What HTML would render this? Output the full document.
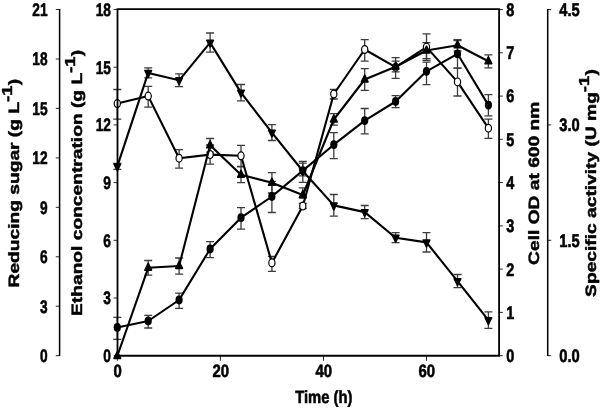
<!DOCTYPE html>
<html lang="en"><head><meta charset="utf-8"><title>Figure</title>
<style>html,body{margin:0;padding:0;background:#fff}svg{display:block}</style>
</head><body>
<svg width="600" height="408" viewBox="0 0 600 408">
<rect width="600" height="408" fill="#fff"/>
<g id="err-activity" stroke="#3c3c3c" stroke-width="1.3" fill="none">
<path d="M117.3 89.5V119.2M113.3 89.5h8M113.3 119.2h8"/>
<path d="M148.2 86.4V107.1M144.2 86.4h8M144.2 107.1h8"/>
<path d="M179.1 149.7V168.2M175.1 149.7h8M175.1 168.2h8"/>
<path d="M210.1 145.0V164.2M206.1 145.0h8M206.1 164.2h8"/>
<path d="M241.0 145.4V166.4M237.0 145.4h8M237.0 166.4h8"/>
<path d="M271.9 256.3V271.4M267.9 256.3h8M267.9 271.4h8"/>
<path d="M302.8 203.5V208.5M298.8 203.5h8M298.8 208.5h8"/>
<path d="M333.8 89.3V99.0M329.8 89.3h8M329.8 99.0h8"/>
<path d="M364.7 39.7V61.2M360.7 39.7h8M360.7 61.2h8"/>
<path d="M395.6 57.7V78.3M391.6 57.7h8M391.6 78.3h8"/>
<path d="M426.5 33.8V60.4M422.5 33.8h8M422.5 60.4h8"/>
<path d="M457.5 68.2V96.0M453.5 68.2h8M453.5 96.0h8"/>
<path d="M488.4 119.2V138.3M484.4 119.2h8M484.4 138.3h8"/>
</g>
<g id="err-sugar" stroke="#3c3c3c" stroke-width="1.3" fill="none">
<path d="M117.3 163.3V169.4M113.3 163.3h8M113.3 169.4h8"/>
<path d="M148.2 67.8V77.9M144.2 67.8h8M144.2 77.9h8"/>
<path d="M179.1 73.9V86.7M175.1 73.9h8M175.1 86.7h8"/>
<path d="M210.1 33.0V52.2M206.1 33.0h8M206.1 52.2h8"/>
<path d="M241.0 84.5V100.8M237.0 84.5h8M237.0 100.8h8"/>
<path d="M271.9 124.7V140.5M267.9 124.7h8M267.9 140.5h8"/>
<path d="M302.8 161.3V182.4M298.8 161.3h8M298.8 182.4h8"/>
<path d="M333.8 194.5V216.2M329.8 194.5h8M329.8 216.2h8"/>
<path d="M364.7 205.5V218.6M360.7 205.5h8M360.7 218.6h8"/>
<path d="M395.6 232.7V242.7M391.6 232.7h8M391.6 242.7h8"/>
<path d="M426.5 232.7V252.0M422.5 232.7h8M422.5 252.0h8"/>
<path d="M457.5 274.5V287.7M453.5 274.5h8M453.5 287.7h8"/>
<path d="M488.4 311.9V328.3M484.4 311.9h8M484.4 328.3h8"/>
</g>
<g id="err-ethanol" stroke="#3c3c3c" stroke-width="1.3" fill="none">
<path d="M148.2 260.5V275.1M144.2 260.5h8M144.2 275.1h8"/>
<path d="M179.1 258.0V274.1M175.1 258.0h8M175.1 274.1h8"/>
<path d="M210.1 138.5V152.1M206.1 138.5h8M206.1 152.1h8"/>
<path d="M241.0 166.8V182.7M237.0 166.8h8M237.0 182.7h8"/>
<path d="M271.9 172.6V193.0M267.9 172.6h8M267.9 193.0h8"/>
<path d="M302.8 187.9V198.0M298.8 187.9h8M298.8 198.0h8"/>
<path d="M333.8 113.7V125.2M329.8 113.7h8M329.8 125.2h8"/>
<path d="M364.7 68.6V90.4M360.7 68.6h8M360.7 90.4h8"/>
<path d="M395.6 61.2V71.9M391.6 61.2h8M391.6 71.9h8"/>
<path d="M426.5 42.6V58.7M422.5 42.6h8M422.5 58.7h8"/>
<path d="M457.5 39.7V50.9M453.5 39.7h8M453.5 50.9h8"/>
<path d="M488.4 54.8V67.8M484.4 54.8h8M484.4 67.8h8"/>
</g>
<g id="err-od" stroke="#3c3c3c" stroke-width="1.3" fill="none">
<path d="M117.3 317.3V339.3M113.3 317.3h8M113.3 339.3h8"/>
<path d="M148.2 315.3V328.0M144.2 315.3h8M144.2 328.0h8"/>
<path d="M179.1 293.2V308.3M175.1 293.2h8M175.1 308.3h8"/>
<path d="M210.1 241.7V257.7M206.1 241.7h8M206.1 257.7h8"/>
<path d="M241.0 207.6V229.1M237.0 207.6h8M237.0 229.1h8"/>
<path d="M271.9 181.5V212.5M267.9 181.5h8M267.9 212.5h8"/>
<path d="M302.8 163.1V175.9M298.8 163.1h8M298.8 175.9h8"/>
<path d="M333.8 132.6V158.7M329.8 132.6h8M329.8 158.7h8"/>
<path d="M364.7 108.5V133.8M360.7 108.5h8M360.7 133.8h8"/>
<path d="M395.6 95.6V107.7M391.6 95.6h8M391.6 107.7h8"/>
<path d="M426.5 62.2V84.7M422.5 62.2h8M422.5 84.7h8"/>
<path d="M457.5 40.5V68.2M453.5 40.5h8M453.5 68.2h8"/>
<path d="M488.4 94.7V115.8M484.4 94.7h8M484.4 115.8h8"/>
</g>
<polyline id="line-activity" points="117.3,103.6 148.2,96.1 179.1,158.2 210.1,154.6 241.0,155.8 271.9,262.9 302.8,206.1 333.8,94.0 364.7,49.5 395.6,67.2 426.5,47.1 457.5,81.9 488.4,128.2" fill="none" stroke="#000" stroke-width="2.1" stroke-linejoin="round"/>
<g id="markers-activity" fill="#fff" stroke="#000" stroke-width="1.2">
<ellipse cx="117.3" cy="103.6" rx="3.1" ry="3.9"/>
<ellipse cx="148.2" cy="96.1" rx="3.1" ry="3.9"/>
<ellipse cx="179.1" cy="158.2" rx="3.1" ry="3.9"/>
<ellipse cx="210.1" cy="154.6" rx="3.1" ry="3.9"/>
<ellipse cx="241.0" cy="155.8" rx="3.1" ry="3.9"/>
<ellipse cx="271.9" cy="262.9" rx="3.1" ry="3.9"/>
<ellipse cx="302.8" cy="206.1" rx="3.1" ry="3.9"/>
<ellipse cx="333.8" cy="94.0" rx="3.1" ry="3.9"/>
<ellipse cx="364.7" cy="49.5" rx="3.1" ry="3.9"/>
<ellipse cx="395.6" cy="67.2" rx="3.1" ry="3.9"/>
<ellipse cx="426.5" cy="47.1" rx="3.1" ry="3.9"/>
<ellipse cx="457.5" cy="81.9" rx="3.1" ry="3.9"/>
<ellipse cx="488.4" cy="128.2" rx="3.1" ry="3.9"/>
</g>
<polyline id="line-sugar" points="117.3,166.4 148.2,72.9 179.1,80.3 210.1,42.6 241.0,92.6 271.9,132.6 302.8,171.0 333.8,205.4 364.7,212.1 395.6,237.7 426.5,242.4 457.5,281.1 488.4,320.1" fill="none" stroke="#000" stroke-width="2.1" stroke-linejoin="round"/>
<g id="markers-sugar" fill="#000" stroke="#000" stroke-width="1.6" stroke-linejoin="round">
<path d="M114.0 164.0h6.6L117.3 170.8z"/>
<path d="M144.9 70.5h6.6L148.2 77.3z"/>
<path d="M175.8 77.9h6.6L179.1 84.7z"/>
<path d="M206.8 40.2h6.6L210.1 47.0z"/>
<path d="M237.7 90.2h6.6L241.0 97.0z"/>
<path d="M268.6 130.2h6.6L271.9 137.0z"/>
<path d="M299.5 168.6h6.6L302.8 175.4z"/>
<path d="M330.5 203.0h6.6L333.8 209.8z"/>
<path d="M361.4 209.7h6.6L364.7 216.5z"/>
<path d="M392.3 235.3h6.6L395.6 242.1z"/>
<path d="M423.2 240.0h6.6L426.5 246.8z"/>
<path d="M454.2 278.7h6.6L457.5 285.5z"/>
<path d="M485.1 317.7h6.6L488.4 324.5z"/>
</g>
<polyline id="line-ethanol" points="117.3,356.0 148.2,267.8 179.1,266.0 210.1,145.3 241.0,174.7 271.9,182.8 302.8,195.0 333.8,119.5 364.7,79.5 395.6,66.7 426.5,50.5 457.5,45.3 488.4,61.3" fill="none" stroke="#000" stroke-width="2.1" stroke-linejoin="round"/>
<g id="markers-ethanol" fill="#000" stroke="#000" stroke-width="1.6" stroke-linejoin="round">
<path d="M114.0 358.4h6.6L117.3 351.6z"/>
<path d="M144.9 270.2h6.6L148.2 263.4z"/>
<path d="M175.8 268.4h6.6L179.1 261.6z"/>
<path d="M206.8 147.7h6.6L210.1 140.9z"/>
<path d="M237.7 177.1h6.6L241.0 170.3z"/>
<path d="M268.6 185.2h6.6L271.9 178.4z"/>
<path d="M299.5 197.4h6.6L302.8 190.6z"/>
<path d="M330.5 121.9h6.6L333.8 115.1z"/>
<path d="M361.4 81.9h6.6L364.7 75.1z"/>
<path d="M392.3 69.1h6.6L395.6 62.3z"/>
<path d="M423.2 52.9h6.6L426.5 46.1z"/>
<path d="M454.2 47.7h6.6L457.5 40.9z"/>
<path d="M485.1 63.7h6.6L488.4 56.9z"/>
</g>
<polyline id="line-od" points="117.3,327.5 148.2,321.0 179.1,300.0 210.1,249.0 241.0,217.7 271.9,196.5 302.8,170.6 333.8,144.7 364.7,120.6 395.6,101.5 426.5,71.3 457.5,53.8 488.4,105.1" fill="none" stroke="#000" stroke-width="2.1" stroke-linejoin="round"/>
<g id="markers-od" fill="#000">
<ellipse cx="117.3" cy="327.5" rx="3.6" ry="4.4"/>
<ellipse cx="148.2" cy="321.0" rx="3.6" ry="4.4"/>
<ellipse cx="179.1" cy="300.0" rx="3.6" ry="4.4"/>
<ellipse cx="210.1" cy="249.0" rx="3.6" ry="4.4"/>
<ellipse cx="241.0" cy="217.7" rx="3.6" ry="4.4"/>
<ellipse cx="271.9" cy="196.5" rx="3.6" ry="4.4"/>
<ellipse cx="302.8" cy="170.6" rx="3.6" ry="4.4"/>
<ellipse cx="333.8" cy="144.7" rx="3.6" ry="4.4"/>
<ellipse cx="364.7" cy="120.6" rx="3.6" ry="4.4"/>
<ellipse cx="395.6" cy="101.5" rx="3.6" ry="4.4"/>
<ellipse cx="426.5" cy="71.3" rx="3.6" ry="4.4"/>
<ellipse cx="457.5" cy="53.8" rx="3.6" ry="4.4"/>
<ellipse cx="488.4" cy="105.1" rx="3.6" ry="4.4"/>
</g>
<g id="axes" stroke="#000" fill="none">
<path d="M117.5 355.7V9.2H499.1V355.7" stroke-width="1.8"/>
<path d="M116.6 355.7H500" stroke-width="2"/>
<path d="M59.6 356.09999999999997V9.1" stroke-width="1.5"/>
<path d="M547.7 356.09999999999997V9.1" stroke-width="1.5"/>
<path d="M59.6 355.7h-3.8" stroke-width="0.85" stroke="#000"/>
<path d="M59.6 306.2h-3.8" stroke-width="0.85" stroke="#000"/>
<path d="M59.6 256.8h-3.8" stroke-width="0.85" stroke="#000"/>
<path d="M59.6 207.3h-3.8" stroke-width="0.85" stroke="#000"/>
<path d="M59.6 157.9h-3.8" stroke-width="0.85" stroke="#000"/>
<path d="M59.6 108.4h-3.8" stroke-width="0.85" stroke="#000"/>
<path d="M59.6 59.0h-3.8" stroke-width="0.85" stroke="#000"/>
<path d="M59.6 9.5h-3.8" stroke-width="0.85" stroke="#000"/>
<path d="M117.5 355.7h-3.8" stroke-width="0.85" stroke="#000"/>
<path d="M117.5 298.0h-3.8" stroke-width="0.85" stroke="#000"/>
<path d="M117.5 240.3h-3.8" stroke-width="0.85" stroke="#000"/>
<path d="M117.5 182.6h-3.8" stroke-width="0.85" stroke="#000"/>
<path d="M117.5 124.9h-3.8" stroke-width="0.85" stroke="#000"/>
<path d="M117.5 67.2h-3.8" stroke-width="0.85" stroke="#000"/>
<path d="M117.5 9.5h-3.8" stroke-width="0.85" stroke="#000"/>
<path d="M499.1 355.7h3.7" stroke-width="0.85" stroke="#000"/>
<path d="M499.1 312.4h3.7" stroke-width="0.85" stroke="#000"/>
<path d="M499.1 269.1h3.7" stroke-width="0.85" stroke="#000"/>
<path d="M499.1 225.9h3.7" stroke-width="0.85" stroke="#000"/>
<path d="M499.1 182.6h3.7" stroke-width="0.85" stroke="#000"/>
<path d="M499.1 139.3h3.7" stroke-width="0.85" stroke="#000"/>
<path d="M499.1 96.1h3.7" stroke-width="0.85" stroke="#000"/>
<path d="M499.1 52.8h3.7" stroke-width="0.85" stroke="#000"/>
<path d="M499.1 9.5h3.7" stroke-width="0.85" stroke="#000"/>
<path d="M547.7 355.7h3.5" stroke-width="0.85" stroke="#000"/>
<path d="M547.7 240.3h3.5" stroke-width="0.85" stroke="#000"/>
<path d="M547.7 124.9h3.5" stroke-width="0.85" stroke="#000"/>
<path d="M547.7 9.5h3.5" stroke-width="0.85" stroke="#000"/>
<path d="M117.3 355.7v5.1" stroke-width="0.85" stroke="#000"/>
<path d="M220.4 355.7v5.1" stroke-width="0.85" stroke="#000"/>
<path d="M323.5 355.7v5.1" stroke-width="0.85" stroke="#000"/>
<path d="M426.5 355.7v5.1" stroke-width="0.85" stroke="#000"/>
</g>
<g id="labels" text-rendering="geometricPrecision" opacity="0.999" font-family="'Liberation Sans', Arial, Helvetica, sans-serif" font-weight="bold" fill="#000" stroke="#000" stroke-width="0.6" stroke-linejoin="round">
<text transform="translate(47.6 362.0) scale(0.75 1)" text-anchor="end" font-size="18.3">0</text>
<text transform="translate(47.6 313.0) scale(0.75 1)" text-anchor="end" font-size="18.3">3</text>
<text transform="translate(47.6 263.0) scale(0.75 1)" text-anchor="end" font-size="18.3">6</text>
<text transform="translate(47.6 214.0) scale(0.75 1)" text-anchor="end" font-size="18.3">9</text>
<text transform="translate(47.6 164.0) scale(0.75 1)" text-anchor="end" font-size="18.3">12</text>
<text transform="translate(47.6 115.0) scale(0.75 1)" text-anchor="end" font-size="18.3">15</text>
<text transform="translate(47.6 65.0) scale(0.75 1)" text-anchor="end" font-size="18.3">18</text>
<text transform="translate(47.6 16.0) scale(0.75 1)" text-anchor="end" font-size="18.3">21</text>
<text transform="translate(111.0 362.0) scale(0.75 1)" text-anchor="end" font-size="18.3">0</text>
<text transform="translate(111.0 304.0) scale(0.75 1)" text-anchor="end" font-size="18.3">3</text>
<text transform="translate(111.0 247.0) scale(0.75 1)" text-anchor="end" font-size="18.3">6</text>
<text transform="translate(111.0 189.0) scale(0.75 1)" text-anchor="end" font-size="18.3">9</text>
<text transform="translate(111.0 131.0) scale(0.75 1)" text-anchor="end" font-size="18.3">12</text>
<text transform="translate(111.0 74.0) scale(0.75 1)" text-anchor="end" font-size="18.3">15</text>
<text transform="translate(111.0 16.0) scale(0.75 1)" text-anchor="end" font-size="18.3">18</text>
<text transform="translate(506.3 362.0) scale(0.79 1)" text-anchor="start" font-size="18.3">0</text>
<text transform="translate(506.3 319.0) scale(0.79 1)" text-anchor="start" font-size="18.3">1</text>
<text transform="translate(506.3 276.0) scale(0.79 1)" text-anchor="start" font-size="18.3">2</text>
<text transform="translate(506.3 232.0) scale(0.79 1)" text-anchor="start" font-size="18.3">3</text>
<text transform="translate(506.3 189.0) scale(0.79 1)" text-anchor="start" font-size="18.3">4</text>
<text transform="translate(506.3 146.0) scale(0.79 1)" text-anchor="start" font-size="18.3">5</text>
<text transform="translate(506.3 102.0) scale(0.79 1)" text-anchor="start" font-size="18.3">6</text>
<text transform="translate(506.3 59.0) scale(0.79 1)" text-anchor="start" font-size="18.3">7</text>
<text transform="translate(506.3 16.0) scale(0.79 1)" text-anchor="start" font-size="18.3">8</text>
<text transform="translate(559.3 362.0) scale(0.805 1)" text-anchor="start" font-size="18.3">0.0</text>
<text transform="translate(559.3 247.0) scale(0.805 1)" text-anchor="start" font-size="18.3">1.5</text>
<text transform="translate(559.3 131.0) scale(0.805 1)" text-anchor="start" font-size="18.3">3.0</text>
<text transform="translate(559.3 16.0) scale(0.805 1)" text-anchor="start" font-size="18.3">4.5</text>
<text transform="translate(117.6 377.0) scale(0.835 1)" text-anchor="middle" font-size="17.9">0</text>
<text transform="translate(220.7 377.0) scale(0.835 1)" text-anchor="middle" font-size="17.9">20</text>
<text transform="translate(323.8 377.0) scale(0.835 1)" text-anchor="middle" font-size="17.9">40</text>
<text transform="translate(426.8 377.0) scale(0.835 1)" text-anchor="middle" font-size="17.9">60</text>
<text transform="translate(323.8 403.0) scale(0.84 1)" text-anchor="middle" font-size="17.6">Time (h)</text>
<text transform="translate(18.7 183.2) scale(0.78 1) rotate(-90)" text-anchor="middle" font-size="19.2">Reducing sugar (g L<tspan dy="-8.7" font-size="18.5">-1</tspan><tspan dy="8.7" dx="0.2">)</tspan></text>
<text transform="translate(81.6 182.9) scale(0.78 1) rotate(-90)" text-anchor="middle" font-size="19.2">Ethanol concentration (g L<tspan dy="-8.7" font-size="18.5">-1</tspan><tspan dy="8.7" dx="0.2">)</tspan></text>
<text transform="translate(538.8 183.3) scale(0.78 1) rotate(-90)" text-anchor="middle" font-size="19.2">Cell OD at 600 nm</text>
<text transform="translate(595.8 183.0) scale(0.78 1) rotate(-90)" text-anchor="middle" font-size="19.2">Specific activity (U mg<tspan dy="-8.7" font-size="18.5">-1</tspan><tspan dy="8.7" dx="0.2">)</tspan></text>
</g>
</svg>
</body></html>
